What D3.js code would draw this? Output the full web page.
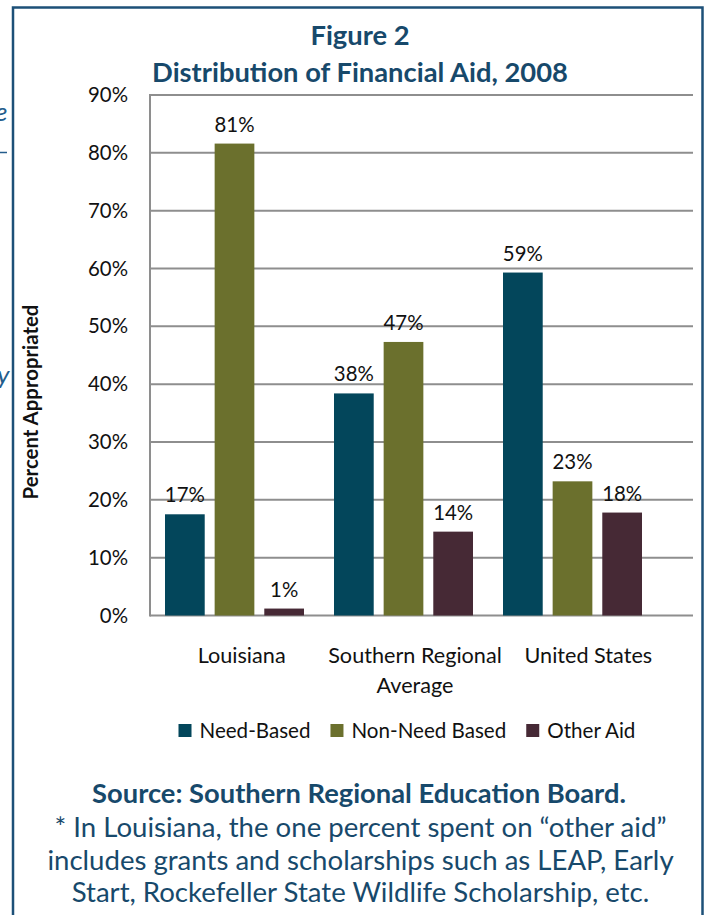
<!DOCTYPE html>
<html>
<head>
<meta charset="utf-8">
<script src="https://cdnjs.cloudflare.com/ajax/libs/d3/7.8.5/d3.min.js"></script>
<style>
  html, body { margin: 0; padding: 0; background: #ffffff; }
  svg { display: block; }
  text { font-family: Lato, "Open Sans", "DejaVu Sans", sans-serif; }
</style>
</head>
<body>
<svg id="chart" width="713" height="915"></svg>
<script>
// ---------------- data ----------------
const categories = ["Louisiana", "Southern Regional Average", "United States"];
const categoryLines = [["Louisiana"], ["Southern Regional", "Average"], ["United States"]];
const seriesNames = ["Need-Based", "Non-Need Based", "Other Aid"];
const needBased = [17.5, 38.4, 59.3];
const nonNeedBased = [81.6, 47.3, 23.2];
const otherAid = [1.2, 14.5, 17.8];
const needLabels = ["17%", "38%", "59%"];
const nonNeedLabels = ["81%", "47%", "23%"];
const otherLabels = ["1%", "14%", "18%"];
const yTicks = [0, 10, 20, 30, 40, 50, 60, 70, 80, 90];
const titleLines = ["Figure 2", "Distribution of Financial Aid, 2008"];
const yAxisTitle = "Percent Appropriated";
const sourceLine = "Source: Southern Regional Education Board.";
const noteLines = [
  "* In Louisiana, the one percent spent on \u201cother aid\u201d",
  "includes grants and scholarships such as LEAP, Early",
  "Start, Rockefeller State Wildlife Scholarship, etc."
];

// ---------------- styles ----------------
const colors = ["#03465b", "#6b702d", "#462935"];
const navy = "#17496b";
const gridColor = "#8e8e8e";

const seriesValues = [needBased, nonNeedBased, otherAid];
const seriesLabels = [needLabels, nonNeedLabels, otherLabels];

const svg = d3.select("#chart");

function fitFont(sel, target) {
  const w = sel.node().getComputedTextLength();
  const fs = parseFloat(sel.attr("font-size"));
  const nfs = fs * target / w;
  sel.attr("font-size", nfs);
  return nfs;
}

// frame
svg.append("rect")
  .attr("x", 13).attr("y", 7.5)
  .attr("width", 689.5).attr("height", 930)
  .attr("fill", "none").attr("stroke", "#1d5078").attr("stroke-width", 2.5);

// cut-off page text fragments on the left edge
svg.append("text").attr("x", -5).attr("y", 121).attr("font-size", 26)
  .attr("font-style", "italic").attr("fill", "#245d8c").text("e");
svg.append("line").attr("x1", 0).attr("x2", 7).attr("y1", 152.5).attr("y2", 152.5)
  .attr("stroke", "#245d8c").attr("stroke-width", 1.5);
svg.append("text").attr("x", -3).attr("y", 384).attr("font-size", 26)
  .attr("font-style", "italic").attr("fill", "#245d8c").text("y");

// scales
const plotLeft = 150, plotRight = 693, plotTop = 95, plotBottom = 615.5;
const y = d3.scaleLinear().domain([0, 90]).range([plotBottom, plotTop]);
const x0 = d3.scaleBand().domain(categories).range([150, 657]).padding(0);
const x1 = d3.scaleBand().domain(seriesNames).range([15, 154]).paddingInner(0.2).paddingOuter(0);
const xLabel = d3.scaleBand().domain(categories).range([155, 675]).padding(0);

// gridlines
svg.append("g").selectAll("line").data(yTicks).join("line")
  .attr("x1", plotLeft).attr("x2", plotRight)
  .attr("y1", d => y(d)).attr("y2", d => y(d))
  .attr("stroke", gridColor).attr("stroke-width", 2);

// y axis line
svg.append("line").attr("x1", plotLeft).attr("x2", plotLeft)
  .attr("y1", plotTop - 1).attr("y2", plotBottom + 1)
  .attr("stroke", gridColor).attr("stroke-width", 2);

// y axis tick labels
const yAxis = d3.axisLeft(y).tickValues(yTicks).tickFormat(d => d + "%").tickSize(0).tickPadding(22);
const yAxisG = svg.append("g").attr("transform", `translate(${plotLeft},0)`).call(yAxis);
yAxisG.select(".domain").remove();
yAxisG.selectAll("text").attr("font-family", "Lato, 'Open Sans', sans-serif")
  .attr("fill", "#111").attr("font-size", 20);
const tickSize = fitFont(yAxisG.selectAll("text").filter(d => d === 90), 40);
yAxisG.selectAll("text").attr("font-size", tickSize);

// bars
const groups = svg.append("g").selectAll("g").data(categories).join("g")
  .attr("transform", c => `translate(${x0(c)},0)`);
groups.each(function(c, ci) {
  const g = d3.select(this);
  seriesNames.forEach((s, si) => {
    const v = seriesValues[si][ci];
    g.append("rect")
      .attr("x", x1(s)).attr("width", x1.bandwidth())
      .attr("y", y(v)).attr("height", y(0) - y(v))
      .attr("fill", colors[si]);
    g.append("text")
      .attr("x", x1(s) + x1.bandwidth() / 2)
      .attr("y", y(v) - 12)
      .attr("text-anchor", "middle")
      .attr("font-size", tickSize)
      .attr("fill", "#111")
      .text(seriesLabels[si][ci]);
  });
});

// category labels
const catG = svg.append("g");
categories.forEach((c, ci) => {
  categoryLines[ci].forEach((line, li) => {
    catG.append("text")
      .attr("class", "cat")
      .attr("x", xLabel(c) + xLabel.bandwidth() / 2)
      .attr("y", 663 + li * 30)
      .attr("text-anchor", "middle")
      .attr("font-size", 20)
      .attr("fill", "#111")
      .text(line);
  });
});
const catSize = fitFont(catG.select("text"), 88);
catG.selectAll("text").attr("font-size", catSize);

// y axis title
const yt = svg.append("text")
  .attr("transform", "translate(38,402) rotate(-90)")
  .attr("text-anchor", "middle")
  .attr("font-weight", "bold")
  .attr("font-size", 15)
  .attr("fill", "#111")
  .text(yAxisTitle);
fitFont(yt, 195);

// legend
const legG = svg.append("g");
let lx = 178.5;
const legItems = seriesNames.map((s, i) => {
  const t = legG.append("text").attr("y", 738).attr("font-size", 20).attr("fill", "#111").text(s);
  return t;
});
const legSize = fitFont(legItems[0], 111);
legItems.forEach((t, i) => {
  t.attr("font-size", legSize);
  legG.append("rect").attr("x", lx).attr("y", 724).attr("width", 13).attr("height", 13).attr("fill", colors[i]);
  t.attr("x", lx + 21);
  lx = lx + 21 + t.node().getComputedTextLength() + 20;
});

// titles
const t1 = svg.append("text").attr("x", 360).attr("y", 45).attr("text-anchor", "middle")
  .attr("font-weight", "bold").attr("font-size", 24).attr("fill", navy).text(titleLines[0]);
const t2 = svg.append("text").attr("x", 360).attr("y", 82).attr("text-anchor", "middle")
  .attr("font-weight", "bold").attr("font-size", 24).attr("fill", navy).text(titleLines[1]);
const titleSize = fitFont(t2, 416);
t1.attr("font-size", titleSize);

// source and notes
const src = svg.append("text").attr("x", 359).attr("y", 803).attr("text-anchor", "middle")
  .attr("font-weight", "bold").attr("font-size", 22).attr("fill", navy).text(sourceLine);
fitFont(src, 534);
const noteSel = noteLines.map((line, i) =>
  svg.append("text").attr("x", 360.5).attr("y", 837 + i * 32.5).attr("text-anchor", "middle")
    .attr("font-size", 22).attr("fill", navy).text(line));
const noteSize = fitFont(noteSel[0], 612);
noteSel.forEach(s => s.attr("font-size", noteSize));
</script>
</body>
</html>
